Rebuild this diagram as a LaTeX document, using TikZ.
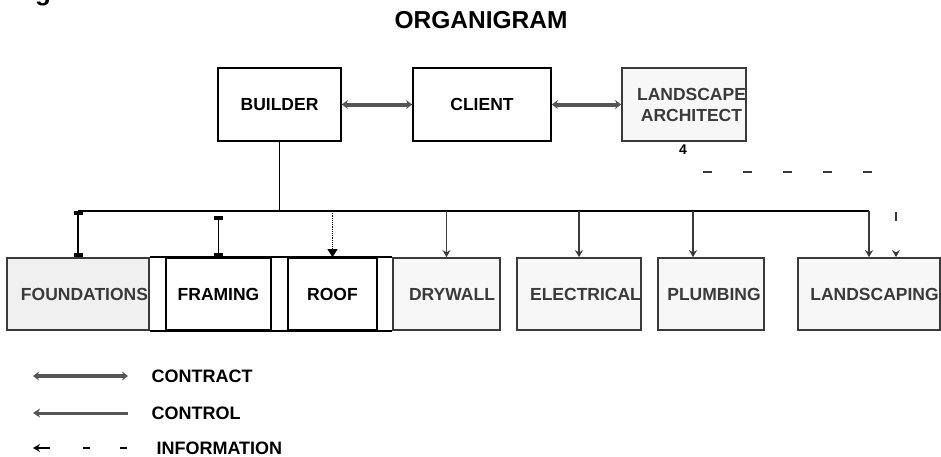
\documentclass[tikz,border=0pt]{standalone}
\usepackage{fontspec}
\setmainfont{Liberation Sans}
\usetikzlibrary{arrows.meta,positioning}
\definecolor{odark}{HTML}{3A3A3A}
\definecolor{ogray}{HTML}{555555}
\definecolor{ofill}{HTML}{F7F7F7}

\begin{document}
\begin{tikzpicture}[x=1pt, y=-1pt,
    unit/.style={rectangle, draw=black, line width=1.8pt, minimum height=73pt, inner sep=0pt, font=\fontsize{17.5}{21}\selectfont\bfseries, align=center},
    trade/.style={unit, draw=odark, fill=ofill, text=odark, minimum height=72pt},
    contract/.style={{Stealth[length=6pt,width=9pt]}-{Stealth[length=6pt,width=9pt]}, line width=4pt, draw=ogray},
    control/.style={{Stealth[length=7pt,width=9pt]}-, line width=3pt, draw=ogray},
    drop/.style={-{Stealth[length=7pt,width=8pt]}, line width=1.3pt, draw=odark},
    capped/.style={{Rectangle[length=4pt,width=9pt]}-{Rectangle[length=4pt,width=9pt]}, line width=1.3pt},
    info/.style={-{Stealth[length=7pt,width=8pt]}, line width=1.3pt, draw=odark},
    legtext/.style={anchor=west, font=\fontsize{18}{21}\selectfont\bfseries}
]
\useasboundingbox (0,0) rectangle (941,456);

% heading
\node[anchor=base, font=\fontsize{26}{28}\selectfont\bfseries] (fig) at (43,0) {g};
\node[font=\fontsize{24.5}{28}\selectfont\bfseries] (title) at (481,20) {ORGANIGRAM};

% contract partners
\node[unit, minimum width=123pt] (builder) at (279.5,104.5) {BUILDER};
\node[unit, minimum width=138pt] (client) at (482,104.5) {CLIENT};
\node[trade, minimum width=124pt, minimum height=73pt] (architect) at (684,104.5) {\hspace*{15pt}LANDSCAPE\\\hspace*{15pt}ARCHITECT};
\node[font=\fontsize{14}{16}\selectfont\bfseries] (note) at (683,150) {4};

\draw[contract] (builder) -- (client);
\draw[contract] (client) -- (architect);

% trades
\node[trade, fill=black!6, minimum width=142pt] (foundations) at (78,294) {\hspace*{13pt}FOUNDATIONS};
\node[unit, minimum width=105pt, minimum height=72pt] (framing) at (218.5,294) {FRAMING};
\node[unit, minimum width=89pt, minimum height=72pt] (roof) at (332.5,294) {ROOF};
\node[trade, minimum width=107pt] (drywall) at (446.5,294) {\hspace*{11pt}DRYWALL};
\node[trade, minimum width=124pt] (electrical) at (579,294) {\hspace*{13pt}ELECTRICAL};
\node[trade, minimum width=106pt] (plumbing) at (711,294) {\hspace*{6pt}PLUMBING};
\node[trade, minimum width=142pt] (landscaping) at (869,294) {\hspace*{11pt}LANDSCAPING};

\draw[line width=1.8pt] (foundations.north east) -- (drywall.north west);
\draw[line width=2.6pt] (foundations.south east) -- (drywall.south west);

% control lines
\coordinate (busL) at (78,211);
\coordinate (busR) at (869,211);
\draw[line width=1.3pt] (busL) -- (busR);
\draw[line width=1.3pt] (builder.south) -- (builder.south |- busL);

\draw[capped] (busL) -- (foundations.north);
\coordinate (framtop) at (218.5,216);
\draw[capped] (framtop) -- (framing.north);
\draw[line width=1.2pt, densely dotted, -{Triangle[length=8pt,width=10pt]}] (roof.north |- busL) -- (roof.north);
\foreach \n in {drywall,electrical,landscaping}
    \draw[drop] (\n.north |- busL) -- (\n.north);
\draw[drop] ([xshift=-18pt]plumbing.north |- busL) -- ([xshift=-18pt]plumbing.north);

% information line
\coordinate (infostart) at (703,172);
\coordinate (infocorner) at (896,172);
\draw[info, dash pattern=on 9pt off 31pt on 9pt off 31pt on 9pt off 31pt on 9pt off 31pt on 9pt off 64pt on 9pt off 100pt]
    (infostart) -- (infocorner) -- (landscaping.north -| infocorner);

% legend
\coordinate (ctrL) at (33,376);
\coordinate (ctrR) at (128,376);
\draw[contract] (ctrL) -- (ctrR);
\node[legtext] (ctrtext) at (148,376) {CONTRACT};
\coordinate (conL) at (33,413);
\coordinate (conR) at (128,413);
\draw[control] (conL) -- (conR);
\node[legtext] (context) at (148,413) {CONTROL};
\coordinate (infL) at (33,448);
\coordinate (infR) at (127,448);
\draw[info, line width=1.5pt, draw=black, dash pattern=on 7pt off 30pt on 7pt off 33pt on 30pt off 1pt] (infR) -- (infL);
\node[legtext] (inftext) at (153,448) {INFORMATION};
\end{tikzpicture}
\end{document}
